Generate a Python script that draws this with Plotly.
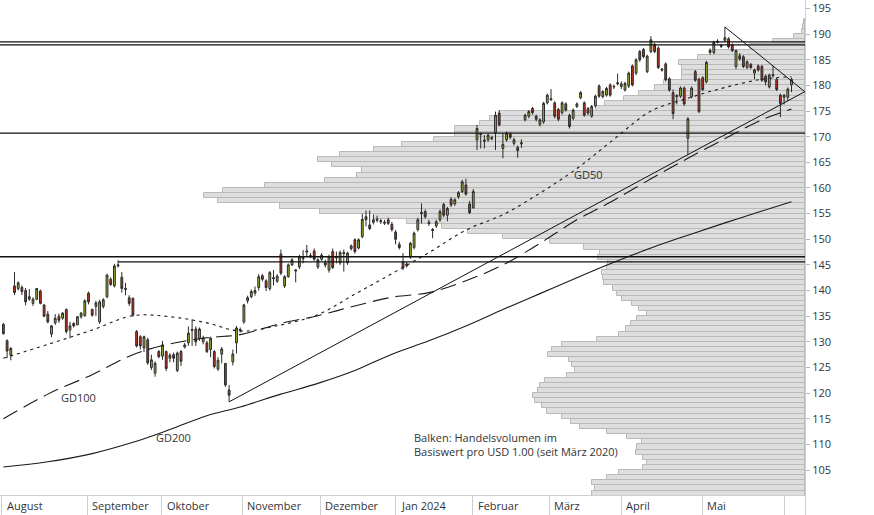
import plotly.graph_objects as go

# ---------------- data ----------------
open_ = [133.4,130.2,127.4,140.9,140.4,140.6,140.0,138.3,137.5,138.3,139.9,137.2,135.4,131.5,133.7,135.0,134.6,136.3,132.3,133.6,
         133.3,134.9,135.1,139.5,136.3,136.9,133.9,136.9,138.8,142.2,140.9,144.8,142.6,140.2,138.6,138.5,132.0,131.0,128.8,130.4,
         125.0,123.9,128.1,127.2,128.1,126.8,127.5,124.4,128.1,129.0,129.8,132.2,132.5,130.7,130.0,129.8,128.5,128.1,124.7,127.6,
         125.8,120.6,126.1,129.8,132.2,133.9,138.0,138.8,139.5,140.6,142.9,141.9,140.4,142.3,141.8,147.1,140.9,142.7,145.0,143.8,
         144.6,146.2,147.5,146.6,147.7,144.6,146.1,145.4,144.0,147.6,146.4,145.4,147.2,145.4,148.2,149.9,148.3,150.5,154.4,152.8,
         153.3,153.7,153.4,153.1,153.8,152.9,151.4,149.0,145.6,144.8,146.6,148.4,151.9,155.0,155.4,153.3,151.7,152.6,153.8,156.8,
         154.7,157.8,156.9,158.3,159.3,160.6,156.9,156.2,169.4,170.4,169.1,169.4,169.6,170.8,174.6,167.7,169.4,170.5,168.7,167.9,
         168.6,173.3,174.0,175.5,174.0,172.4,172.9,176.6,177.2,176.6,175.3,174.7,176.4,174.2,173.6,175.9,177.6,176.6,175.5,174.0,
         176.0,179.9,177.8,178.1,180.1,179.7,180.3,179.8,179.1,179.9,183.8,182.4,186.6,187.0,182.7,186.6,188.0,187.3,183.2,184.2,
         181.3,178.6,177.8,177.9,179.5,169.7,177.8,182.7,181.2,181.5,180.7,186.9,186.4,188.4,187.6,188.8,189.1,187.9,183.7,185.8,
         185.6,183.5,184.1,182.4,183.8,183.7,181.8,179.7,181.9,181.2,178.1,177.7,177.7,180.1]
high = [133.7,130.5,129.0,143.6,141.8,141.0,140.5,140.3,138.7,140.5,140.2,137.3,136.0,133.3,135.4,135.5,135.8,136.5,133.9,133.8,
        135.0,135.8,138.3,139.8,136.5,138.0,138.2,138.5,143.3,142.6,145.2,145.9,143.6,141.5,139.1,138.6,132.3,131.3,131.2,130.8,
        127.5,126.2,128.4,130.2,128.3,127.8,127.9,128.1,128.4,129.8,133.0,134.4,133.0,132.8,131.2,130.2,131.0,128.4,127.0,129.0,
        125.8,121.6,128.5,133.1,132.8,137.4,139.0,140.2,140.8,143.2,143.2,142.2,143.8,144.0,143.2,148.0,143.0,145.3,146.3,144.1,
        147.0,147.9,148.9,147.3,148.2,146.3,147.3,146.0,147.0,148.2,147.6,147.8,148.0,147.6,149.0,150.2,150.2,155.0,155.6,155.6,
        154.8,154.6,154.0,153.8,154.2,153.4,151.8,149.5,147.3,145.6,149.5,151.5,154.2,157.0,155.8,153.8,152.2,153.8,155.8,157.1,
        156.3,158.2,158.0,159.4,161.6,161.8,157.5,159.8,172.3,170.8,170.3,170.6,170.2,174.9,175.2,170.7,171.0,170.9,169.8,168.3,
        169.5,174.5,175.2,175.8,174.3,173.6,176.8,178.4,179.3,176.9,175.6,176.9,176.7,174.5,175.5,176.7,178.9,176.9,175.8,176.2,
        178.2,180.2,179.1,179.7,180.4,180.2,182.3,180.8,180.7,182.7,184.1,185.3,186.9,187.3,186.0,189.6,188.3,187.6,183.4,184.5,
        181.6,179.2,178.3,179.8,179.8,173.8,179.8,183.0,181.5,181.8,184.8,187.2,188.7,189.0,188.1,191.4,189.4,188.2,187.0,186.3,
        185.9,184.9,184.4,183.3,184.1,184.0,182.1,182.3,183.8,181.5,178.4,178.3,179.6,181.5]
low = [131.4,126.8,126.4,139.1,140.0,139.1,137.1,138.0,137.0,138.1,137.3,134.8,133.6,130.9,133.3,133.7,134.3,131.6,130.7,132.8,
       133.3,134.5,134.9,137.3,134.9,135.0,133.5,136.5,138.5,140.9,140.6,144.5,139.6,139.1,137.0,134.9,128.9,128.5,128.0,125.5,
       124.5,123.2,126.8,126.5,124.3,126.0,126.0,124.1,125.3,128.7,129.2,129.2,129.2,130.2,129.5,127.8,127.0,124.8,124.3,125.8,
       121.2,118.3,125.4,127.7,131.8,133.5,137.5,138.5,139.0,140.0,141.8,139.9,140.0,141.0,141.5,143.0,140.5,142.5,144.8,141.6,
       144.2,145.3,146.6,146.3,145.8,144.2,145.8,144.5,143.5,144.2,145.3,145.0,143.7,145.0,147.8,147.2,148.0,150.2,152.5,151.8,
       152.9,153.3,153.0,152.8,152.8,151.5,149.0,148.0,144.0,144.5,146.2,148.0,151.5,153.1,154.0,152.6,150.2,152.2,153.4,154.3,
       153.5,156.3,156.5,157.9,159.0,158.5,154.9,155.9,167.4,167.7,167.7,169.0,169.3,167.4,172.0,165.8,169.0,169.5,168.3,165.9,
       167.8,173.0,173.6,174.3,173.0,172.0,172.5,176.3,177.0,173.6,173.0,174.3,174.9,171.6,173.2,175.6,177.3,173.9,174.2,173.7,
       175.7,177.6,177.5,177.8,177.8,179.3,180.0,179.3,178.8,179.5,179.8,182.0,184.6,185.3,182.4,186.3,186.3,183.2,182.7,180.8,
       178.8,173.4,176.3,177.6,176.0,166.5,177.5,180.7,174.6,178.9,180.4,186.0,186.1,188.2,187.3,188.5,187.2,186.5,183.2,184.8,
       183.4,183.2,183.2,181.2,182.7,180.7,180.0,179.4,181.5,178.9,173.8,176.3,177.0,178.7]
close = [131.6,128.2,128.7,139.6,141.5,139.8,137.8,138.8,138.3,140.4,137.5,135.0,133.9,133.1,134.6,134.2,135.6,132.0,133.1,133.1,
         134.9,135.6,138.0,137.8,135.2,137.6,137.8,138.2,143.0,141.2,144.8,145.0,140.4,140.4,137.5,135.2,129.2,129.2,131.0,125.9,
         126.5,125.8,127.1,129.4,124.8,127.4,126.8,127.8,126.2,129.4,131.7,132.4,130.0,132.5,130.8,128.1,130.7,125.2,126.4,128.6,
         121.6,119.6,127.6,132.7,132.4,137.2,138.6,139.8,140.0,142.7,142.2,140.6,143.5,142.5,142.8,143.4,142.7,145.0,146.0,144.0,
         146.6,146.4,147.7,146.8,146.1,146.0,146.9,145.0,146.6,144.5,146.6,147.4,147.4,147.3,148.7,147.6,149.9,153.9,153.8,152.1,
         153.8,153.9,153.6,153.3,153.1,151.9,150.0,148.4,144.4,145.2,149.2,151.2,153.8,155.2,154.4,153.1,151.9,153.4,155.4,154.7,
         156.0,156.7,157.7,159.1,161.2,158.8,155.2,159.3,171.6,170.6,169.3,170.3,169.8,174.2,172.3,168.5,170.7,169.9,169.4,167.3,
         168.8,174.2,174.9,174.7,173.4,173.3,176.5,178.1,177.4,174.0,173.4,176.6,175.2,172.0,175.2,176.4,178.6,174.2,174.6,175.9,
         177.9,177.9,178.8,179.4,178.1,179.8,180.5,180.3,180.4,182.4,180.1,185.0,185.0,185.6,185.7,188.9,186.6,183.5,183.0,181.1,
         179.1,174.5,178.0,179.5,176.4,173.5,179.5,181.0,174.9,179.2,184.5,186.4,188.4,188.6,187.8,189.3,187.5,186.8,186.8,185.2,
         183.7,184.6,183.5,183.0,183.0,181.0,180.7,182.0,182.1,179.2,176.5,178.1,179.3,181.2]
day = list(range(len(open_)))

# x axis (trading-day index) and month labels
x_range = [-0.92, 216.65]
month_labels = ["August", "September", "Oktober", "November", "Dezember",
                "Jan 2024", "Februar", "März", "April", "Mai"]
month_start = [-0.5, 22.7, 42.8, 64.6, 85.7, 106.0, 126.8, 147.5, 167.0, 188.9]
extra_sep = [211.2, 216.65]

# moving averages (sampled along the curves)
ma_idx = [0, 12, 24, 35, 45, 55, 64, 75, 85, 95, 105, 115, 125, 135, 145, 155, 165, 175, 185, 195, 205, 213]
gd50 = [126.8, 129.5, 132.3, 135.1, 134.9, 133.7, 132.1, 133.3, 135.3, 139.3, 143.3, 147.4, 151.8, 154.8,
        159.0, 163.8, 169.5, 175.0, 177.5, 179.6, 181.2, 181.7]
gd100 = [115.0, 119.8, 123.6, 127.5, 129.6, 130.8, 131.4, 133.6, 135.1, 137.0, 138.7, 139.6, 141.9, 145.0,
         149.2, 153.8, 157.6, 161.8, 165.8, 169.6, 173.3, 175.4]
gd200 = [105.6, 106.6, 108.2, 110.4, 112.9, 115.6, 117.3, 119.8, 121.9, 124.4, 127.6, 130.2, 133.1, 136.3,
         139.4, 142.5, 145.5, 148.3, 150.8, 153.2, 155.5, 157.3]

# volume profile: volume per USD 1.00 price band (arbitrary units)
profile_price = list(range(100, 193))
profile_vol = [213, 210, 213, 198, 186, 162, 158, 162, 169, 168, 163, 178, 198, 225, 234, 243, 258, 263, 270, 272,
               267, 265, 260, 238, 230, 233, 236, 257, 253, 243, 208, 186, 179, 174, 168, 158, 166, 173, 183, 188,
               192, 201, 202, 203, 198, 197, 207, 205, 221, 255, 302, 337, 363, 398, 431, 485, 525, 587, 601, 582,
               540, 480, 448, 443, 473, 487, 465, 431, 403, 371, 350, 350, 325, 315, 305, 209, 200, 181, 166, 150,
               141, 123, 123, 123, 126, 107, 90, 55, 32, 11, 3, 2, 1]
vol_axis_max = 805

# horizontal support / resistance lines
hline_levels = [188.5, 187.9, 170.7, 146.6, 145.6]
hline_start = [-0.92, -0.92, -0.92, -0.92, 31]

# trend lines anchored on candles
trend_up_pts = [61, 185]     # lows
trend_down_pts = [195, 208]  # highs

y_range = [100.13, 196.66]
FONT = "Open Sans"
TXT = "#333333"

fig = go.Figure()

# volume profile bars (base axis x, reversed)
fig.add_trace(go.Bar(
    y=[p + 0.5 for p in profile_price], x=profile_vol, orientation="h", width=1.0,
    marker=dict(color="#dedede", line=dict(color="#b9b9b9", width=1)),
    xaxis="x", yaxis="y", hoverinfo="skip", showlegend=False))

# moving averages
fig.add_trace(go.Scatter(x=ma_idx, y=gd200, mode="lines", xaxis="x2", yaxis="y",
                         line=dict(color="#1a1a1a", width=1.1, shape="spline"), showlegend=False))
fig.add_trace(go.Scatter(x=ma_idx, y=gd100, mode="lines", xaxis="x2", yaxis="y",
                         line=dict(color="#1a1a1a", width=1.1, dash="16px,7px", shape="spline"), showlegend=False))
fig.add_trace(go.Scatter(x=ma_idx, y=gd50, mode="lines", xaxis="x2", yaxis="y",
                         line=dict(color="#1a1a1a", width=1.1, dash="3px,4px", shape="spline"), showlegend=False))

# horizontal lines
for lvl, st in zip(hline_levels, hline_start):
    fig.add_trace(go.Scatter(x=[st, x_range[1]], y=[lvl, lvl], mode="lines", xaxis="x2", yaxis="y",
                             line=dict(color="#111111", width=1.4), showlegend=False, hoverinfo="skip"))

# trend lines
a, b = trend_up_pts
slope_up = (low[b] - low[a]) / (b - a)
fig.add_trace(go.Scatter(x=[a, x_range[1]], y=[low[a], low[a] + slope_up * (x_range[1] - a)],
                         mode="lines", xaxis="x2", yaxis="y",
                         line=dict(color="#111111", width=1), showlegend=False, hoverinfo="skip"))
a, b = trend_down_pts
slope_dn = (high[b] - high[a]) / (b - a)
fig.add_trace(go.Scatter(x=[a, x_range[1]], y=[high[a], high[a] + slope_dn * (x_range[1] - a)],
                         mode="lines", xaxis="x2", yaxis="y",
                         line=dict(color="#111111", width=1), showlegend=False, hoverinfo="skip"))

# candles
fig.add_trace(go.Candlestick(
    x=day, open=open_, high=high, low=low, close=close, xaxis="x2", yaxis="y",
    increasing=dict(fillcolor="#9cb526", line=dict(color="#2b2b2b", width=1)),
    decreasing=dict(fillcolor="#c0321f", line=dict(color="#2b2b2b", width=1)),
    whiskerwidth=0, showlegend=False))

annotations = []
for lab, st in zip(month_labels, month_start):
    annotations.append(dict(x=st, y=0, xref="x2", yref="paper", text=lab, showarrow=False,
                            xanchor="left", yanchor="top", xshift=3, yshift=-1,
                            font=dict(family=FONT, size=11, color=TXT)))
annotations += [
    dict(x=158.0, y=162.7, xref="x2", yref="y", text="GD50", showarrow=False,
         font=dict(family=FONT, size=11, color=TXT)),
    dict(x=20.2, y=119.05, xref="x2", yref="y", text="GD100", showarrow=False,
         font=dict(family=FONT, size=11, color=TXT)),
    dict(x=46.0, y=111.4, xref="x2", yref="y", text="GD200", showarrow=False,
         font=dict(family=FONT, size=11, color=TXT)),
    dict(x=110.4, y=109.9, xref="x2", yref="y", xanchor="left", align="left",
         text="Balken: Handelsvolumen im<br>Basiswert pro USD 1.00 (seit März 2020)", showarrow=False,
         font=dict(family=FONT, size=11, color=TXT)),
]

fig.update_layout(
    width=874, height=515, margin=dict(l=0, r=69, t=0, b=20),
    paper_bgcolor="white", plot_bgcolor="white",
    font=dict(family=FONT, size=11, color=TXT),
    showlegend=False, bargap=0,
    xaxis=dict(range=[vol_axis_max, 0], visible=False, fixedrange=True,
               rangeslider=dict(visible=False)),
    xaxis2=dict(overlaying="x", side="bottom", anchor="y", range=x_range,
                showgrid=False, zeroline=False, showline=True, linecolor="#cfcfcf", linewidth=1,
                ticks="outside", ticklen=20, tickcolor="#cfcfcf", tickwidth=1,
                tickvals=month_start + extra_sep, ticktext=[""] * (len(month_start) + len(extra_sep)),
                rangeslider=dict(visible=False)),
    yaxis=dict(side="right", range=y_range, dtick=5, tick0=100, showgrid=False, zeroline=False,
               showline=True, linecolor="#cfcfcf", linewidth=1,
               ticks="outside", ticklen=4, tickcolor="#bbbbbb",
               tickfont=dict(family=FONT, size=11, color=TXT)),
    annotations=annotations,
)

fig.write_html("out.html")
